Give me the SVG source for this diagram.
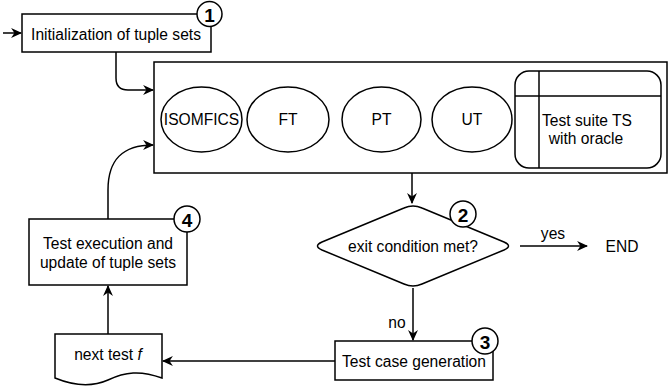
<svg xmlns="http://www.w3.org/2000/svg" width="669" height="391" viewBox="0 0 669 391">
<defs>
<marker id="ah" viewBox="0 0 10 10" refX="9" refY="5" markerWidth="11" markerHeight="11" markerUnits="userSpaceOnUse" orient="auto">
<path d="M0,0.5 L10,5 L0,9.5 L3,5 Z" fill="#000"/>
</marker>
</defs>
<style>
.s{fill:#fff;stroke:#000;stroke-width:1.5}
.c{fill:none;stroke:#000;stroke-width:1.5}
text{font-family:"Liberation Sans",Arial,sans-serif;font-size:15.6px;fill:#000}
.m{text-anchor:middle;dominant-baseline:central}
.n{font-size:19px;font-weight:bold}
</style>
<rect width="669" height="391" fill="#fff"/>
<g id="connectors">
<path class="c" d="M3,33 L21,33" marker-end="url(#ah)"/>
<path class="c" d="M116,52 L116,78 Q116,90 128,90 L153,90" marker-end="url(#ah)"/>
<path class="c" d="M412,173 L412,203" marker-end="url(#ah)"/>
<path class="c" d="M520,246 L587,246" marker-end="url(#ah)"/>
<text x="553" y="233" class="m">yes</text>
<path class="c" d="M413,288 L413,340" marker-end="url(#ah)"/>
<text x="397" y="322" class="m">no</text>
<path class="c" d="M335,361 L163,361" marker-end="url(#ah)"/>
<path class="c" d="M108,334 L108,286" marker-end="url(#ah)"/>
<path class="c" d="M108,219 L108,190 C108,160 122,145 153,145" marker-end="url(#ah)"/>
</g>
<g id="init">
<rect class="s" x="22" y="14" width="189" height="38"/>
<text x="116" y="34" class="m">Initialization of tuple sets</text>
<circle class="s" cx="209.5" cy="14" r="12.5"/>
<text x="209.5" y="15" class="m n">1</text>
</g>
<g id="container">
<rect class="s" x="154" y="62" width="513" height="111"/>
</g>
<g id="isomfics">
<ellipse class="s" cx="201.5" cy="119.5" rx="40.5" ry="32.5"/>
<text x="201.5" y="119" class="m">ISOMFICS</text>
</g>
<g id="ft">
<ellipse class="s" cx="288" cy="119.5" rx="41" ry="32.5"/>
<text x="288" y="119" class="m">FT</text>
</g>
<g id="pt">
<ellipse class="s" cx="381.5" cy="119.5" rx="39.5" ry="32.5"/>
<text x="381.5" y="119" class="m">PT</text>
</g>
<g id="ut">
<ellipse class="s" cx="472" cy="119.5" rx="40" ry="32.5"/>
<text x="472" y="119" class="m">UT</text>
</g>
<g id="testsuite">
<rect class="s" x="515" y="71" width="146" height="97" rx="14" ry="14"/>
<line class="c" x1="539" y1="71" x2="539" y2="168"/>
<line class="c" x1="515" y1="96" x2="661" y2="96"/>
<text x="587" y="120" class="m">Test suite TS</text>
<text x="586" y="138" class="m">with oracle</text>
</g>
<g id="decision">
<path class="s" d="M404,208 Q413,204 422,208 L504,242 Q513,246 504,250 L422,284 Q413,288 404,284 L322,250 Q313,246 322,242 Z"/>
<text x="413" y="246" class="m">exit condition met?</text>
<circle class="s" cx="463" cy="214" r="13"/>
<text x="463" y="215" class="m n">2</text>
</g>
<g id="end">
<text x="622" y="246" class="m">END</text>
</g>
<g id="gen">
<rect class="s" x="335" y="341" width="158" height="39"/>
<text x="414" y="361" class="m">Test case generation</text>
<circle class="s" cx="485" cy="341" r="13"/>
<text x="485" y="342" class="m n">3</text>
</g>
<g id="next">
<path class="s" d="M55,334 L162,334 L162,378 C140,370 125,372 108,380 C90,388 72,385 55,378 Z"/>
<text x="108" y="354" class="m">next test <tspan font-style="italic">f</tspan></text>
</g>
<g id="exec">
<rect class="s" x="29" y="219" width="158" height="66"/>
<text x="108" y="243" class="m">Test execution and</text>
<text x="108" y="262" class="m">update of tuple sets</text>
<circle class="s" cx="187" cy="219" r="13"/>
<text x="187" y="220" class="m n">4</text>
</g>
</svg>
